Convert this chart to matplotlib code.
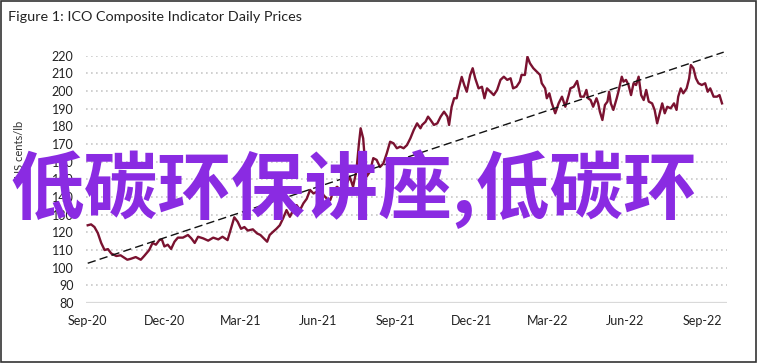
import matplotlib.pyplot as plt
import matplotlib.dates as mdates
from matplotlib.patches import Rectangle
import numpy as np
import pandas as pd

# ICO composite indicator (US cents/lb)
dates = [
    "2020-09-01", "2020-09-05", "2020-09-09", "2020-09-13", "2020-09-17", "2020-09-21", "2020-09-25", "2020-09-29",
    "2020-10-05", "2020-10-10", "2020-10-18", "2020-10-22", "2020-10-28",
    "2020-11-03", "2020-11-07", "2020-11-13", "2020-11-17", "2020-11-21", "2020-11-25", "2020-11-28",
    "2020-12-01", "2020-12-05", "2020-12-09", "2020-12-13", "2020-12-17", "2020-12-23", "2020-12-29",
    "2021-01-02", "2021-01-06", "2021-01-10", "2021-01-16", "2021-01-22", "2021-01-28",
    "2021-02-03", "2021-02-08", "2021-02-14", "2021-02-18", "2021-02-22", "2021-02-26",
    "2021-03-02", "2021-03-06", "2021-03-10", "2021-03-16", "2021-03-21", "2021-03-25", "2021-03-29",
    "2021-04-02", "2021-04-05", "2021-04-09", "2021-04-13", "2021-04-17", "2021-04-21", "2021-04-25", "2021-04-29",
    "2021-05-03", "2021-05-07", "2021-05-11", "2021-05-15", "2021-05-19", "2021-05-23", "2021-05-27", "2021-05-31",
    "2021-06-04", "2021-06-08", "2021-06-12", "2021-06-16", "2021-06-20", "2021-06-24", "2021-06-28",
    "2021-07-02", "2021-07-05", "2021-07-09", "2021-07-13", "2021-07-17", "2021-07-20", "2021-07-22", "2021-07-25",
    "2021-07-27", "2021-07-29",
    "2021-08-02", "2021-08-06", "2021-08-10", "2021-08-14", "2021-08-18", "2021-08-22", "2021-08-26", "2021-08-30",
    "2021-09-03", "2021-09-07", "2021-09-11", "2021-09-15", "2021-09-19", "2021-09-23", "2021-09-27",
    "2021-10-01", "2021-10-03", "2021-10-07", "2021-10-10", "2021-10-13", "2021-10-17", "2021-10-21", "2021-10-25",
    "2021-10-29",
    "2021-11-02", "2021-11-04", "2021-11-07", "2021-11-10", "2021-11-13", "2021-11-15", "2021-11-19", "2021-11-22",
    "2021-11-25", "2021-11-29",
    "2021-12-02", "2021-12-05", "2021-12-09", "2021-12-13", "2021-12-16", "2021-12-19", "2021-12-23", "2021-12-27",
    "2021-12-31",
    "2022-01-04", "2022-01-08", "2022-01-12", "2022-01-16", "2022-01-19", "2022-01-23", "2022-01-27", "2022-01-29",
    "2022-02-02", "2022-02-05", "2022-02-08", "2022-02-12", "2022-02-16", "2022-02-20", "2022-02-22", "2022-02-26",
    "2022-02-28",
    "2022-03-03", "2022-03-06", "2022-03-10", "2022-03-14", "2022-03-18", "2022-03-22", "2022-03-26", "2022-03-28",
    "2022-04-01", "2022-04-05", "2022-04-09", "2022-04-13", "2022-04-16", "2022-04-18", "2022-04-21", "2022-04-24",
    "2022-04-28", "2022-04-30",
    "2022-05-02", "2022-05-05", "2022-05-08", "2022-05-11", "2022-05-13", "2022-05-15", "2022-05-18", "2022-05-22",
    "2022-05-24", "2022-05-28", "2022-05-30",
    "2022-06-02", "2022-06-05", "2022-06-08", "2022-06-11", "2022-06-14", "2022-06-17", "2022-06-20", "2022-06-23",
    "2022-06-26", "2022-06-29",
    "2022-07-03", "2022-07-06", "2022-07-09", "2022-07-12", "2022-07-15", "2022-07-18", "2022-07-21", "2022-07-25",
    "2022-07-29",
    "2022-08-01", "2022-08-03", "2022-08-06", "2022-08-09", "2022-08-13", "2022-08-16", "2022-08-18", "2022-08-21",
    "2022-08-24", "2022-08-27", "2022-08-31",
    "2022-09-04", "2022-09-07", "2022-09-10", "2022-09-14", "2022-09-18", "2022-09-21", "2022-09-24",
]
prices = [
    124, 124.5, 123, 119.6, 114, 110, 110.5, 108,
    106.6, 107, 104.5, 105, 106,
    104.5, 106.6, 110, 114, 113, 115.6, 116,
    112, 113, 110.6, 114.7, 117, 117, 118.5,
    116.6, 114, 117.5, 116.6, 115.3, 117,
    116, 117.5, 115.6, 122, 128.5, 126,
    122, 123, 121, 121.7, 119.4, 118.5, 116.6,
    114.7, 118.5, 120.3, 122, 124, 128, 132.6, 128.8,
    132.6, 135.4, 132.6, 136.4, 139, 144, 142, 143,
    145, 141, 139, 138.3, 144, 145.8, 144,
    148.6, 146.8, 151.5, 145.8, 155, 170.4, 178.9, 173.2,
    161, 151.5,
    154.3, 162, 161, 157, 159, 164.7, 171.3, 170.4,
    167.6, 168.5, 167.6, 169.4, 173.2, 177.9, 181.7,
    178.9, 180.8, 182.6, 185.5, 183.6, 180.8, 181.7, 185.5,
    188.3,
    185.5, 180.8, 191, 195.9, 195.9, 200.6, 208, 203.4,
    199.6, 209,
    212.9, 207.2, 201.5, 202.4, 195.9, 201.5, 199.6, 197.7,
    200.6,
    206.3, 208.1, 206.3, 207.2, 201.5, 202.4, 205.3, 209.1,
    209.1, 219.4, 215.7, 212.9, 211, 209.1, 204.4, 201.5,
    195.9,
    198.7, 193, 187.4, 193, 196.8, 191.1, 197.7, 201.5,
    202.4, 205.7, 196.8, 196.8, 200.6, 195.9, 194.9, 191.1,
    195.9, 193,
    188.3, 183.6, 192.1, 194, 199.6, 193, 189.3, 195.9,
    199.6, 208.1, 205.3,
    206.3, 203.4, 197.7, 204.4, 203.4, 208.1, 197.7, 194.9,
    200.6, 194,
    193, 189.3, 181.7, 187.4, 193, 187.4, 191.1, 190.2,
    193,
    189.3, 196.8, 201.5, 198.7, 201.5, 207.2, 214.7, 212.9,
    207.2, 204.4, 203.4,
    204.4, 199.6, 201.5, 196.8, 196.8, 197.7, 193,
]

# linear trend drawn as dashed line
trend_dates = ["2020-09-01", "2022-09-26"]
trend_values = [102.5, 222]

y_ticks = list(range(80, 221, 10))
x_ticks = ["2020-09-01", "2020-12-01", "2021-03-01", "2021-06-01", "2021-09-01",
           "2021-12-01", "2022-03-01", "2022-06-01", "2022-09-01"]

overlay_text = "低碳环保讲座,低碳环"

plt.rcParams['font.family'] = ['Lato', 'DejaVu Sans']

fig = plt.figure(figsize=(7.58, 3.63), dpi=100)
ax = fig.add_axes([0.1135, 0.1653, 0.8457, 0.6813])

ax.plot(pd.to_datetime(dates), prices, color='#7a1230', lw=1.7, zorder=3)
ax.plot(pd.to_datetime(trend_dates), trend_values, color='#111111', lw=1.0,
        dashes=(6, 3), zorder=4, clip_on=False)

ax.set_ylim(80, 220)
ax.set_xlim(pd.Timestamp("2020-08-30"), pd.Timestamp("2022-09-30"))
ax.set_yticks(y_ticks)
ax.set_xticks(pd.to_datetime(x_ticks))
ax.xaxis.set_major_formatter(mdates.DateFormatter('%b-%y'))

for v in y_ticks[1:]:
    ax.axhline(v, color='#c8c8c8', lw=1.2, ls=(0, (1, 2)), zorder=1)
ax.axhline(80, color='#d9d9d9', lw=1.6, zorder=1)

for s in ax.spines.values():
    s.set_visible(False)
ax.tick_params(length=0, labelsize=9, colors='#222222')
ax.tick_params(axis='y', pad=9)
ax.tick_params(axis='x', pad=9)

ax.set_ylabel("US cents/lb", fontsize=8, color='#333333')
ax.yaxis.set_label_coords(-0.095, 0.62)

fig.text(0.011, 0.952, "Figure 1: ICO Composite Indicator Daily Prices",
         fontsize=10.4, color='#222222', va='center', ha='left')

fig.text(0.014, 0.478, overlay_text, fontsize=53, fontweight='bold',
         color='#8a2be2', va='center', ha='left',
         family=['Noto Sans CJK SC', 'DejaVu Sans'], zorder=10)

fig.patches.append(Rectangle((0.001, 0.002), 0.997, 0.995, transform=fig.transFigure,
                             fill=False, edgecolor='#333333', lw=1.2))

fig.savefig("out.png", dpi=100)
